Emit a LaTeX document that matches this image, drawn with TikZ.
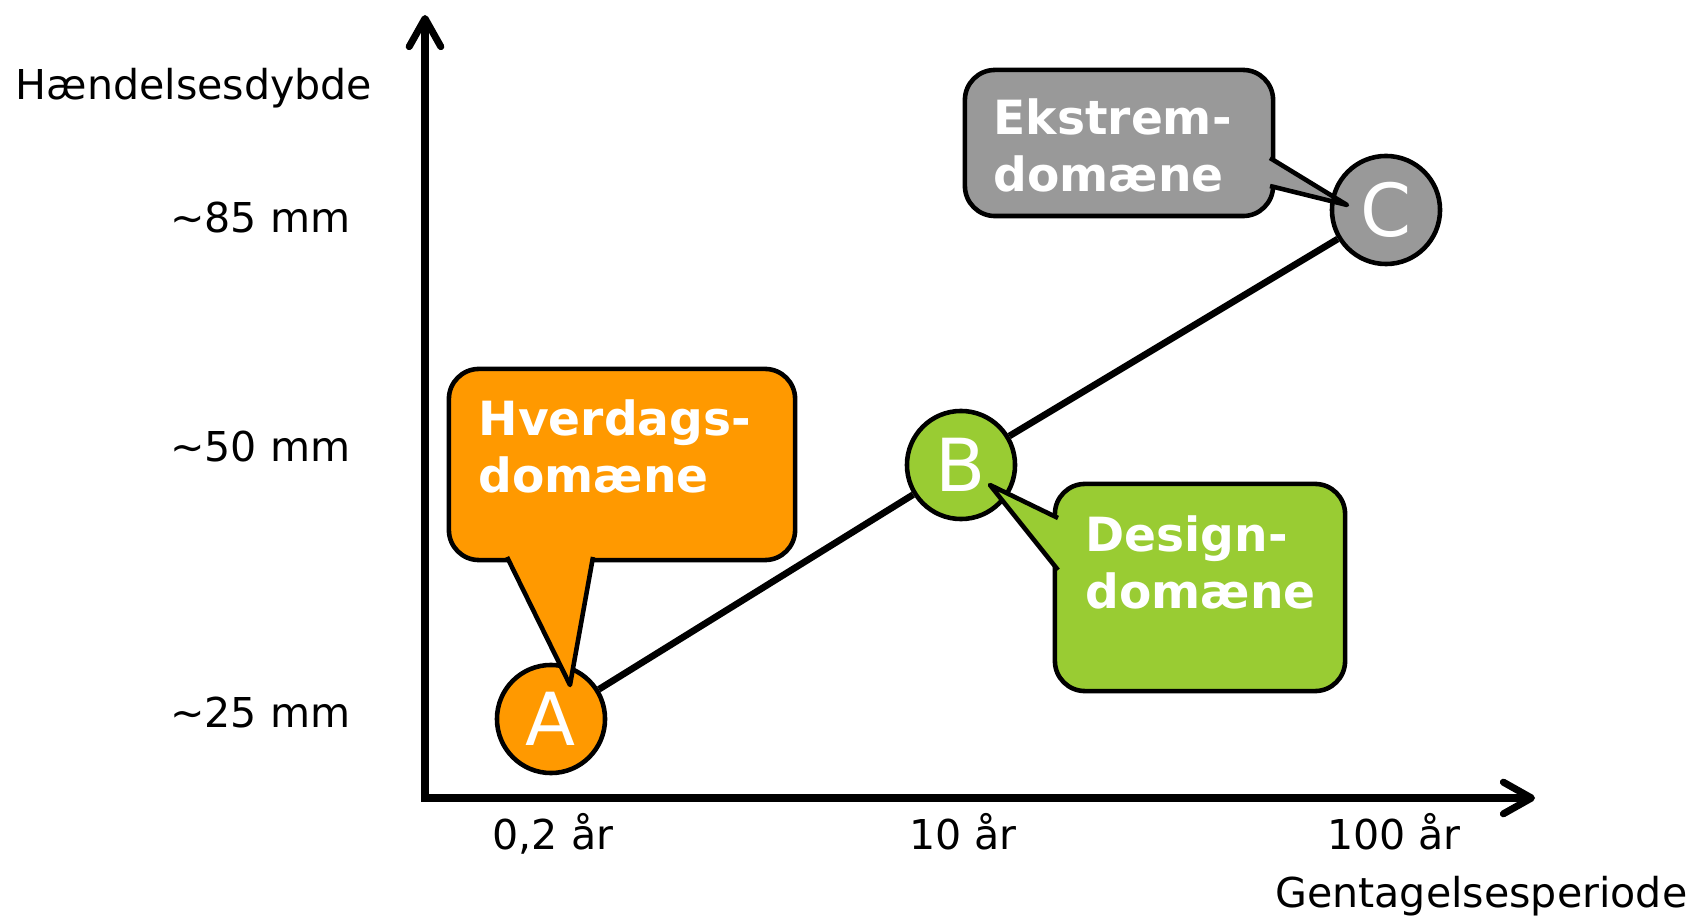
\documentclass[tikz,border=0pt]{standalone}
\usepackage{fontspec}
\setmainfont{DejaVu Sans}
\usepackage{tikz}
\usetikzlibrary{arrows.meta}
\usetikzlibrary{positioning}

\begin{document}
\begin{tikzpicture}[x=0.01cm, y=-0.01cm,
	axislabel/.style={inner sep=0pt, font={\fontsize{11.7}{14}\selectfont}},
	point/.style={draw, circle, line width={1.3pt}, minimum size={1.08cm}, inner sep=0pt, text=white, font={\fontsize{20.8}{24}\selectfont}},
	box/.style={draw, rectangle, rounded corners={0.3cm}, line width={1.3pt}, inner sep=0pt},
	boxtext/.style={align=left, inner sep=0pt, text=white, font={\bfseries\fontsize{13.4}{16.2}\selectfont}},
	pointer/.style={line width={1.3pt}, line join=round}]
				\definecolor{ORANGE}{RGB}{255, 153, 0}
				\definecolor{GREEN}{RGB}{153, 204, 51}
				\definecolor{GREY}{RGB}{153, 153, 153}
				\useasboundingbox (0, 0) rectangle (1697, 919);
				% axes
				\coordinate (o) at (425, 798);
				\coordinate (ytop) at (425, 15);
				\coordinate (xend) at (1535, 798);
				\draw[{Straight Barb[round, length=8pt, width=9pt]}-{Straight Barb[round, length=8pt, width=9pt]}, line width={2pt}, line join=miter] (ytop) -- (o) -- (xend);
				\node[axislabel, anchor=base west] (ylabel) at (15, 100) {Hændelsesdybde};
				\node[axislabel, anchor=base east] (y85) at (351, 233) {\textasciitilde 85 mm};
				\node[axislabel, anchor=base east] (y50) at (351, 462) {\textasciitilde 50 mm};
				\node[axislabel, anchor=base east] (y25) at (351, 728) {\textasciitilde 25 mm};
				\node[axislabel, anchor=base] (x02) at (553, 849) {0,2 år};
				\node[axislabel, anchor=base] (x10) at (963, 849) {10 år};
				\node[axislabel, anchor=base] (x100) at (1394, 849) {100 år};
				\node[axislabel, anchor=base east] (xlabel) at (1688, 907) {Gentagelsesperiode};
				% points
				\node[point, fill=ORANGE] (A) at (551, 719) {A};
				\node[point, fill=GREEN] (B) at (961, 465) {B};
				\node[point, fill=GREY] (C) at (1386, 210) {C};
				\draw[line width={1.9pt}] (A) -- (B) -- (C);
				% callouts
				\node[box, fill=ORANGE, minimum width={3.46cm}, minimum height={1.91cm}] (hvbox) at (622, 464.5) {};
				\fill[ORANGE] (507, 557) -- (570, 685) -- (593, 557) -- cycle;
				\draw[pointer] (507, 557) -- (570, 685) -- (593, 557);
				\node[boxtext, anchor=north west] (hvtext) at (478, 399) {Hverdags-\\domæne};
				\node[box, fill=GREEN, minimum width={2.90cm}, minimum height={2.07cm}] (debox) at (1200, 587.5) {};
				\fill[GREEN] (1058, 518) -- (990, 485) -- (1058, 570) -- cycle;
				\draw[pointer] (1058, 518) -- (990, 485) -- (1058, 570);
				\node[boxtext, anchor=north west] (detext) at (1085, 515) {Design-\\domæne};
				\node[box, fill=GREY, minimum width={3.08cm}, minimum height={1.46cm}] (ekbox) at (1119, 143) {};
				\fill[GREY] (1270, 158) -- (1347, 205) -- (1270, 186) -- cycle;
				\draw[pointer] (1270, 158) -- (1347, 205) -- (1270, 186);
				\node[boxtext, anchor=north west] (ektext) at (993, 98) {Ekstrem-\\domæne};
			\end{tikzpicture}
\end{document}
